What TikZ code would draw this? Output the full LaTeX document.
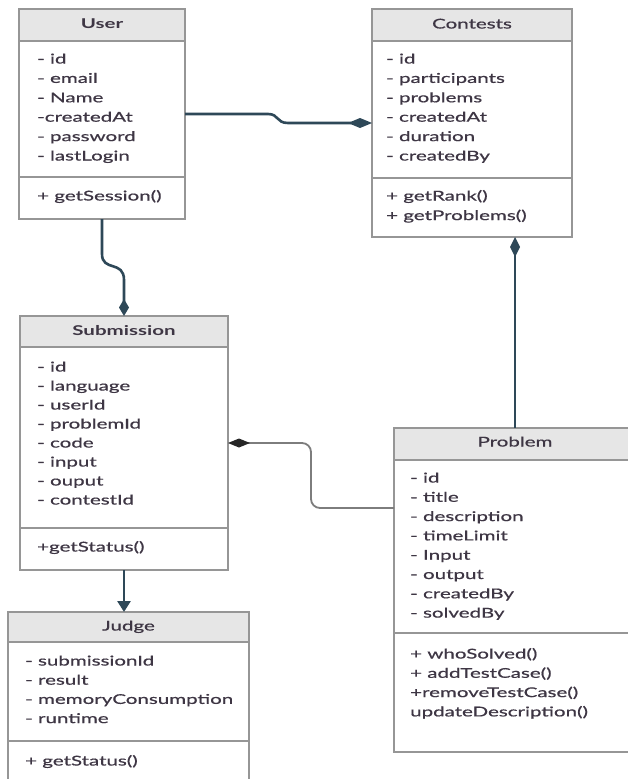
\documentclass[tikz,border=0pt]{standalone}
\usepackage{fontspec}
\setmainfont{Lato}[FakeStretch=1.52]
\newfontfamily\attrfont{Lato}[FakeStretch=1.52,FakeBold=0.7]
\usetikzlibrary{arrows.meta}
\definecolor{connc}{RGB}{46,72,88}
\definecolor{boxline}{RGB}{150,150,150}
\definecolor{hdr}{RGB}{230,230,230}
\definecolor{txt}{RGB}{62,54,68}
\definecolor{thinc}{RGB}{125,125,125}
\tikzset{
  classbox/.style={draw=boxline, line width=1.2pt, inner sep=0pt, outer sep=0pt, anchor=north west},
  hdrbox/.style={fill=hdr, draw=boxline, line width=1.2pt},
  sepline/.style={draw=boxline, line width=1.2pt},
  attr/.style={anchor=west, inner sep=0pt, text height=10pt, text depth=3pt,
    font=\attrfont\fontsize{13.5}{16}\selectfont, text=txt},
  titletext/.style={inner sep=0pt, text height=10pt, text depth=3pt,
    font=\attrfont\fontsize{13.5}{16}\selectfont, text=txt},
  boldtitle/.style={titletext, font=\fontsize{13.5}{16}\selectfont\bfseries},
  conn/.style={draw=connc, line width=2.6pt},
  thinconn/.style={draw=thinc, line width=1.8pt},
}
\newcommand\umlclass[7]{%
  \node[classbox, minimum width=#4pt, minimum height=#5pt] (#1) at (#2,#3) {};
  \filldraw[hdrbox] (#1.north west) rectangle ([yshift=-#6pt]#1.north east);
  \draw[sepline] ([yshift=-#7pt]#1.north west) -- ([yshift=-#7pt]#1.north east);
}
\begin{document}
\begin{tikzpicture}[x=1pt,y=-1pt]
\useasboundingbox (0,0) rectangle (628,779);
\clip (0,0) rectangle (628,779);
\fill[white] (0,0) rectangle (628,779);

% classes
\umlclass{user}{19}{9}{166}{210}{32}{168}
\umlclass{contests}{372}{9}{200}{228}{32}{169}
\umlclass{sub}{20}{316}{208}{254}{31}{212}
\umlclass{problem}{394}{428}{242}{324}{32}{205}
\umlclass{judge}{8}{612}{241}{190}{30}{129}

% titles
\node[boldtitle] (user-t) at ([yshift=-16pt]user.north) {User};
\node[titletext] (contests-t) at ([yshift=-16pt]contests.north) {Contests};
\node[boldtitle] (sub-t) at ([yshift=-15.5pt]sub.north) {Submission};
\node[titletext] (problem-t) at ([yshift=-15pt]problem.north) {Problem};
\node[titletext] (judge-t) at ([yshift=-15pt]judge.north) {Judge};

% attributes and methods
\foreach \t [count=\i] in {- id,- email,- Name,-createdAt,- password,- lastLogin}
  \node[attr] (ua\i) at (37,{60+19.4*(\i-1)}) {\t};
\node[attr] (um1) at (37,197) {+ getSession()};

\foreach \t [count=\i] in {- id,- participants,- problems,- createdAt,- duration,- createdBy}
  \node[attr] (ca\i) at (386,{60+19.4*(\i-1)}) {\t};
\foreach \t [count=\i] in {+ getRank(),+ getProblems()}
  \node[attr] (cm\i) at (386,{197+19.6*(\i-1)}) {\t};

\foreach \t [count=\i] in {- id,- language,- userId,- problemId,- code,- input,- ouput,- contestId}
  \node[attr] (sa\i) at (37,{368+19.0*(\i-1)}) {\t};
\node[attr] (sm1) at (37,548) {+getStatus()};

\foreach \t [count=\i] in {- id,- title,- description,- timeLimit,- Input,- output,- createdBy,- solvedBy}
  \node[attr] (pa\i) at (410,{479+19.3*(\i-1)}) {\t};
\foreach \t [count=\i] in {+ whoSolved(),+ addTestCase(),+removeTestCase(),updateDescription()}
  \node[attr] (pm\i) at (410,{655+19.3*(\i-1)}) {\t};

\foreach \t [count=\i] in {- submissionId,- result,- memoryConsumption,- runtime}
  \node[attr] (ja\i) at (25,{662+19.2*(\i-1)}) {\t};
\node[attr] (jm1) at (25,762) {+ getStatus()};

% connectors
\draw[conn, -{Diamond[length=24pt,width=10pt]}] (user.east) -- (268,114)
  .. controls (279,114) and (276,123) .. (288,123) -- (contests.west);
\draw[conn, -{Diamond[length=17pt,width=10pt]}] (user.south) -- (102,254)
  .. controls (102,272) and (124,260) .. (124,280) -- (sub.north);
\draw[conn, {Diamond[length=20pt,width=10pt]}-] (contests.south -| problem.north) -- (problem.north);
\draw[thinconn, rounded corners=9pt, -{Diamond[length=22pt,width=9pt,color=black!85]}]
  ([yshift=-80pt]problem.north west) -- (311,508) -- (311,443) -- ([yshift=-127pt]sub.north east);
\draw[conn, -{Triangle[length=11pt,width=13pt]}] (sub.south) -- (sub.south |- judge.north);
\end{tikzpicture}
\end{document}
